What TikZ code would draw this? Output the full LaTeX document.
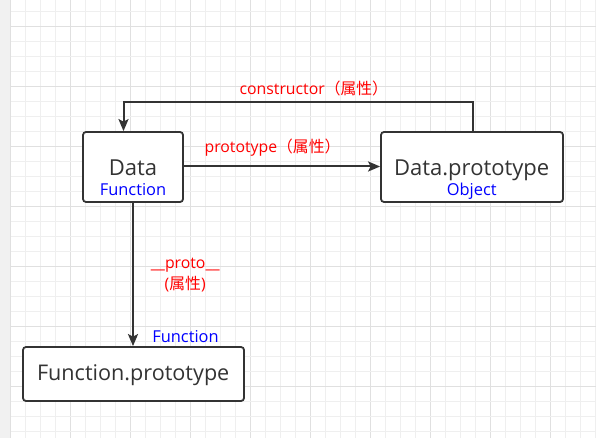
\documentclass[tikz,border=0pt]{standalone}
\usepackage{fontspec}
\setmainfont{Open Sans}
\newfontfamily\cjk{Noto Sans CJK SC}
\usetikzlibrary{arrows.meta}
\definecolor{ink}{HTML}{333333}
\definecolor{minorgrid}{HTML}{EFEFEF}
\definecolor{majorgrid}{HTML}{E0E0E0}
\definecolor{strip}{HTML}{F1F1F1}
\definecolor{lblred}{HTML}{FF0000}
\definecolor{lblblue}{HTML}{0000FF}
\tikzset{
  box/.style={draw=ink, line width=1.8pt, rounded corners=3pt, fill=white},
  conn/.style={draw=ink, line width=2pt, -{Stealth[length=12pt,width=10pt,inset=2.5pt]}},
  main/.style={text=ink, inner sep=0pt, anchor=base, font=\fontsize{22}{24}\selectfont},
  sub/.style={text=lblblue, inner sep=0pt, anchor=base, font=\fontsize{16.4}{18}\selectfont},
  lbl/.style={text=lblred, inner sep=0pt, anchor=base, font=\fontsize{15.8}{18}\selectfont},
}
\begin{document}
\begin{tikzpicture}[x=1pt,y=-1pt]
\useasboundingbox (0,0) rectangle (596,438);
\fill[white] (0,0) rectangle (596,438);
% grid
\foreach \i in {0,...,39} {
  \pgfmathsetmacro\xx{10.7+15*\i}
  \pgfmathtruncatemacro\m{mod(\i,4)}
  \ifnum\m=0 \draw[majorgrid, line width=0.9pt] (\xx,0) -- (\xx,438);
  \else \draw[minorgrid, line width=0.9pt] (\xx,0) -- (\xx,438); \fi
}
\foreach \j in {0,...,28} {
  \pgfmathsetmacro\yy{11+15*\j}
  \pgfmathtruncatemacro\m{mod(\j+3,4)}
  \ifnum\m=0 \draw[majorgrid, line width=0.9pt] (10.7,\yy) -- (596,\yy);
  \else \draw[minorgrid, line width=0.9pt] (10.7,\yy) -- (596,\yy); \fi
}
\fill[strip] (0,0) rectangle (10.2,438);

% boxes
\node[box, minimum width=100pt, minimum height=70pt] (data) at (133,167) {};
\node[box, minimum width=182pt, minimum height=70pt] (dproto) at (472,167) {};
\node[box, minimum width=221pt, minimum height=54pt] (fproto) at (133.5,374) {};

% texts in boxes
\node[main] (tdata) at (133,175.7) {Data};
\node[sub] (tdatasub) at (133,196) {Function};
\node[main] (tdproto) at (471.7,176) {Data.prototype};
\node[sub] (tdprotosub) at (471.7,196) {Object};
\node[main, font=\fontsize{21.6}{23}\selectfont] (tfproto) at (133.2,380.7) {Function.prototype};

% connectors
\coordinate (c1) at (472.5,102.5);
\coordinate (c2) at (123.5,102.5);
\draw[conn] (dproto.north -| c1) -- (c1) -- (c2) -- (c2 |- data.north);
\draw[conn] (data.east |- 0,166.5) -- (dproto.west |- 0,166.5);
\draw[conn] (data.south) -- (fproto.north -| data.south);

% labels
\node[lbl] (lcons) at (313.8,94.3) {constructor{\cjk （属性）}};
\node[lbl] (lproto) at (272.5,152.3) {prototype{\cjk （属性）}};
\node[lbl] (lpp) at (185.3,268.3) {\_\_proto\_\_};
\node[lbl] (lpp2) at (185.2,289.5) {({\cjk 属性})};
\node[sub] (lfun) at (185.5,342) {Function};
\end{tikzpicture}
\end{document}
